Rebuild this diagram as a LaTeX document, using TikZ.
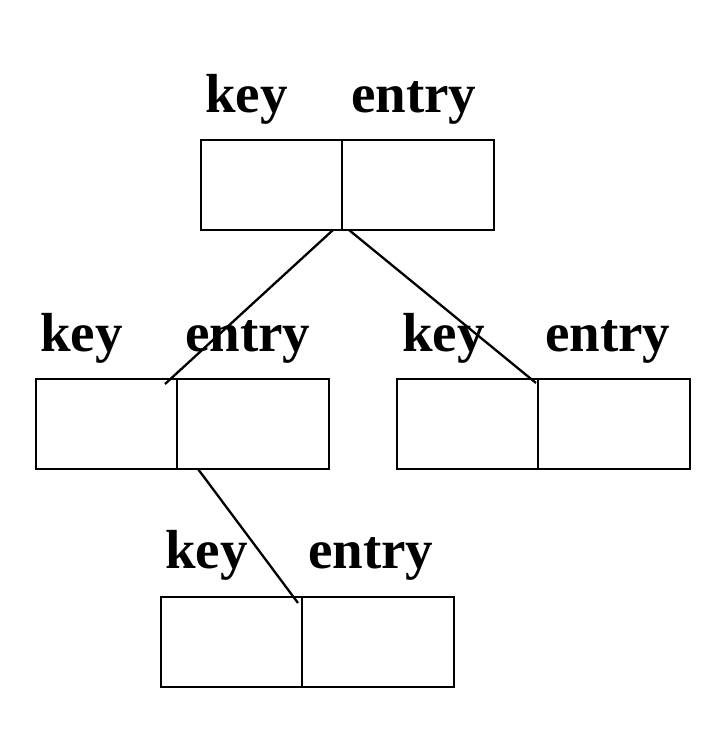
\documentclass[tikz,border=0pt]{standalone}
\usepackage{fontspec}
\setmainfont{Liberation Serif}
\usetikzlibrary{calc}
\begin{document}
\begin{tikzpicture}[x=1pt,y=-1pt,
  keycell/.style={draw,line width=2.6pt,minimum width=141pt,minimum height=90pt,inner sep=0pt,outer sep=0pt,anchor=north west},
  entrycell/.style={draw,line width=2.6pt,minimum width=152pt,minimum height=90pt,inner sep=0pt,outer sep=0pt,anchor=north west},
  lbl/.style={font=\fontsize{55}{60}\selectfont\bfseries,inner sep=0pt,anchor=base west},
  link/.style={line width=2.3pt}]
\useasboundingbox (0,0) rectangle (716,742);
% top
\node[keycell] (tk) at (201,140) {};
\node[entrycell] (te) at (tk.north east) {};
\node[lbl] (tkl) at (205,112) {key};
\node[lbl] (tel) at (351,112) {entry};
% middle left
\node[keycell] (lk) at (36,379) {};
\node[entrycell] (le) at (lk.north east) {};
\node[lbl] (lkl) at (40,351) {key};
\node[lbl] (lel) at (185,351) {entry};
% middle right
\node[keycell] (rk) at (397,379) {};
\node[entrycell] (re) at (rk.north east) {};
\node[lbl] (rkl) at (402,351) {key};
\node[lbl] (rel) at (545,351) {entry};
% bottom
\node[keycell] (bk) at (161,597) {};
\node[entrycell] (be) at (bk.north east) {};
\node[lbl] (bkl) at (165,568) {key};
\node[lbl] (bel) at (308,568) {entry};
% connectors
\draw[link] ($(tk.south east)+(-9,0)$) -- ($(lk.north east)+(-12,5)$);
\draw[link] ($(tk.south east)+(7,0)$) -- ($(rk.north east)+(-2,4)$);
\draw[link] ($(lk.south east)+(21,0)$) -- ($(bk.north east)+(-4,6)$);
\end{tikzpicture}
\end{document}
